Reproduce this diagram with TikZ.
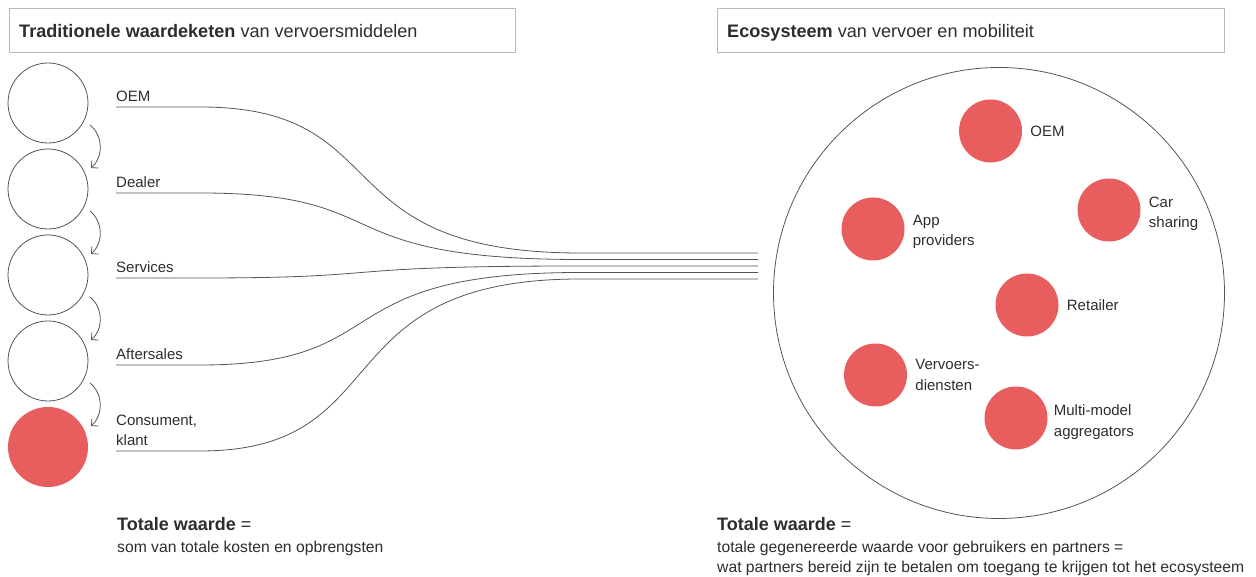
\documentclass[tikz,border=0pt]{standalone}
\usepackage{fontspec}
\setmainfont{Liberation Sans}
\usetikzlibrary{arrows.meta,calc,positioning}
\definecolor{kred}{RGB}{232,94,95}
\definecolor{ktext}{RGB}{45,45,45}
\definecolor{kline}{RGB}{85,85,85}
\definecolor{kbox}{RGB}{185,185,185}
\begin{document}
\begin{tikzpicture}[x=1pt,y=1pt,
  titlebox/.style={draw=kbox,line width=0.9pt},
  titletext/.style={anchor=base west,inner sep=0pt,text=ktext,font=\fontsize{18.1}{21}\selectfont},
  chaincircle/.style={circle,draw=kline,line width=0.8pt,minimum size=80pt,inner sep=0pt},
  chainred/.style={circle,fill=kred,minimum size=80pt,inner sep=0pt},
  flowarrow/.style={draw=kline,line width=0.8pt,-{Straight Barb[length=5pt,width=10pt]}},
  bundleline/.style={draw=kline,line width=0.8pt},
  chainlabel/.style={anchor=south west,inner sep=0pt,text=ktext,align=left,font=\fontsize{15}{20.5}\selectfont},
  ecocircle/.style={circle,draw=kline,line width=0.8pt,minimum size=451pt,inner sep=0pt},
  actor/.style={circle,fill=kred,minimum size=63pt,inner sep=0pt},
  actorlabel/.style={right=8pt,inner sep=0pt,text=ktext,align=left,font=\fontsize{15}{20.5}\selectfont},
  headtext/.style={anchor=base west,inner sep=0pt,text=ktext,font=\fontsize{18}{22}\selectfont},
  subtext/.style={anchor=base west,inner sep=0pt,text=ktext,font=\fontsize{15.7}{20}\selectfont}
]
\useasboundingbox (0,0) rectangle (1256,577);

% title boxes
\draw[titlebox] (9,525) rectangle (515,569);
\node[titletext] (t1) at (19,539.5) {\textbf{Traditionele waardeketen} van vervoersmiddelen};
\draw[titlebox] (717,525) rectangle (1224,569);
\node[titletext] (t2) at (727,539.5) {\textbf{Ecosysteem} van vervoer en mobiliteit};

% value chain circles
\node[chaincircle] (c1) at (48,474) {};
\node[chaincircle] (c2) at (48,388) {};
\node[chaincircle] (c3) at (48,302) {};
\node[chaincircle] (c4) at (48,216) {};
\node[chainred]    (c5) at (48,130) {};

\foreach \a/\b in {c1/c2,c2/c3,c3/c4,c4/c5}{
  \draw[flowarrow] ($(\a.center)+(42,-22)$) to[bend left=50] ($(\b.center)+(43,21)$);
}

% line starts, bundle points, ends
\coordinate (s1) at (116,470); \coordinate (b1) at (580,324);   \coordinate (e1) at (758,324);
\coordinate (s2) at (116,384); \coordinate (b2) at (580,317.5); \coordinate (e2) at (758,317.5);
\coordinate (s3) at (116,299); \coordinate (b3) at (580,311);   \coordinate (e3) at (758,311);
\coordinate (s4) at (116,212); \coordinate (b4) at (580,304.5); \coordinate (e4) at (758,304.5);
\coordinate (s5) at (116,126); \coordinate (b5) at (580,298);   \coordinate (e5) at (758,298);

\node[chainlabel] (l1) at ($(s1)+(0,5)$) {OEM};
\node[chainlabel] (l2) at ($(s2)+(0,5)$) {Dealer};
\node[chainlabel] (l3) at ($(s3)+(0,5)$) {Services};
\node[chainlabel] (l4) at ($(s4)+(0,5)$) {Aftersales};
\node[chainlabel] (l5) at ($(s5)+(0,5)$) {Consument,\\klant};

\foreach \i in {1,...,5}{
  \draw[bundleline] (s\i) -- ++(84,0) .. controls +(200,0) and +(-260,0) .. (b\i) -- (e\i);
}

% ecosystem
\node[ecocircle] (eco) at (999,284) {};
\node[actor] (a1) at (990.5,446) {};
\node[actorlabel] at (a1.east) {OEM};
\node[actor] (a2) at (1109,367) {};
\node[actorlabel,yshift=-4pt] at (a2.east) {Car\\sharing};
\node[actor] (a3) at (873,348) {};
\node[actorlabel,yshift=-3pt] at (a3.east) {App\\providers};
\node[actor] (a4) at (1027,272) {};
\node[actorlabel] at (a4.east) {Retailer};
\node[actor] (a5) at (875.5,202) {};
\node[actorlabel] at (a5.east) {Vervoers-\\diensten};
\node[actor] (a6) at (1016,159) {};
\node[actorlabel,right=6pt,yshift=-4pt] at (a6.east) {Multi-model\\aggregators};

% bottom texts
\node[headtext] (h1) at (117,46) {\textbf{Totale waarde} =};
\node[subtext] (h1b) at (117,24) {som van totale kosten en opbrengsten};
\node[headtext] (h2) at (717,46) {\textbf{Totale waarde} =};
\node[subtext] (h2b) at (717,24) {totale gegenereerde waarde voor gebruikers en partners =};
\node[subtext] (h2c) at (717,4) {wat partners bereid zijn te betalen om toegang te krijgen tot het ecosysteem};
\end{tikzpicture}
\end{document}
